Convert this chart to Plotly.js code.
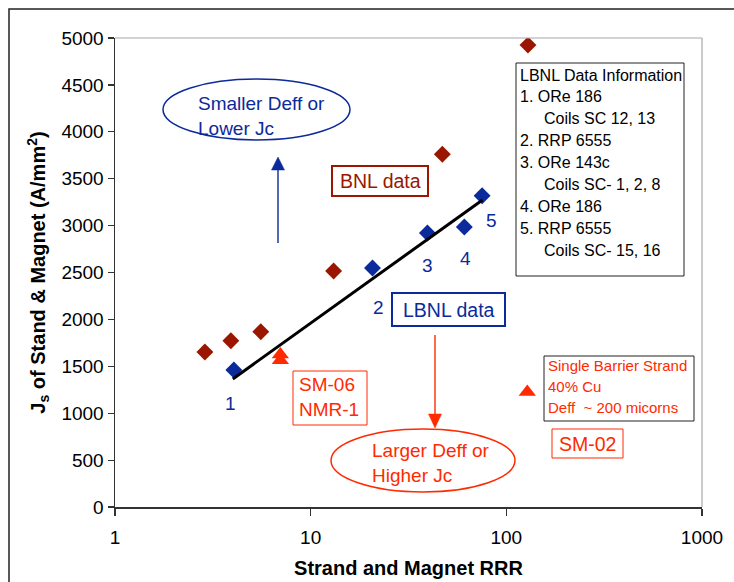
<!DOCTYPE html>
<html>
<head>
<meta charset="utf-8">
<script src="https://cdn.plot.ly/plotly-3.0.1.min.js"></script>
<style>
html,body{margin:0;padding:0;background:#fff;}
#chart{width:734px;height:582px;}
</style>
</head>
<body>
<div id="chart"></div>
<script>
// ---- data ----
var bnlRRR = [2.88, 3.91, 5.56, 13.1, 47.1, 129];
var bnlJs  = [1652, 1773, 1869, 2516, 3760, 4925];

var lbnlRRR = [4.05, 20.7, 39.5, 61, 75.2];
var lbnlJs  = [1460, 2548, 2921, 2985, 3319];
var lbnlLabels = ['1', '2', '3', '4', '5'];

var sm06RRR = [7.0, 7.0];
var sm06Js  = [1625, 1565];

var sm02RRR = [128];
var sm02Js  = [1226];

var trendRRR = [4.0, 75.5];
var trendJs  = [1365, 3273];

var xTickVals = [1, 10, 100, 1000];
var xTickText = ['1', '10', '100', '1000'];

var infoLines = ['LBNL Data Information', '1. ORe 186', '   Coils SC 12, 13', '2. RRP 6555',
  '3. ORe 143c', '   Coils SC- 1, 2, 8', '4. ORe 186', '5. RRP 6555', '   Coils SC- 15, 16'];
var barrierLines = ['Single Barrier Strand', '40% Cu', 'Deff&nbsp; ~ 200 micorns'];

// ---- style ----
var FONT = 'Liberation Sans, Arial, Helvetica, sans-serif';
var BROWN = '#9A1600';
var BLUE = '#0B2A9B';
var RED = '#FF2A00';

var L = 115, R = 702, T = 38, B = 507;
function xp(px){ return (px - L) / (R - L); }
function yp(py){ return (B - py) / (B - T); }

var traces = [
  {x: bnlRRR, y: bnlJs, type: 'scatter', mode: 'markers',
   marker: {symbol: 'diamond', size: 13, color: BROWN}},
  {x: lbnlRRR, y: lbnlJs, type: 'scatter', mode: 'markers',
   marker: {symbol: 'diamond', size: 13, color: BLUE}},
  {x: sm06RRR, y: sm06Js, type: 'scatter', mode: 'markers',
   marker: {symbol: 'triangle-up', size: 15, color: RED}},
  {x: sm02RRR, y: sm02Js, type: 'scatter', mode: 'markers',
   marker: {symbol: 'triangle-up', size: 15, color: RED}},
  {x: trendRRR, y: trendJs, type: 'scatter', mode: 'lines',
   line: {color: '#000', width: 3}}
];

function rect(x0, y0, x1, y1, color, w){
  return {type: 'rect', xref: 'paper', yref: 'paper', x0: xp(x0), x1: xp(x1), y0: yp(y1), y1: yp(y0),
          line: {color: color, width: w}, fillcolor: 'rgba(0,0,0,0)'};
}
function ell(x0, y0, x1, y1, color, w){
  return {type: 'circle', xref: 'paper', yref: 'paper', x0: xp(x0), x1: xp(x1), y0: yp(y1), y1: yp(y0),
          line: {color: color, width: w}, fillcolor: 'rgba(0,0,0,0)'};
}
function line(x0, y0, x1, y1, color, w){
  return {type: 'line', xref: 'paper', yref: 'paper', x0: xp(x0), x1: xp(x1), y0: yp(y0), y1: yp(y1),
          line: {color: color, width: w}};
}
function head(tx, ty, base, halfw, color){
  var p = 'M' + xp(tx) + ',' + yp(ty) + ' L' + xp(tx - halfw) + ',' + yp(base) +
          ' L' + xp(tx + halfw) + ',' + yp(base) + ' Z';
  return {type: 'path', xref: 'paper', yref: 'paper', path: p, fillcolor: color,
          line: {color: color, width: 0.5}};
}

var shapes = [
  rect(9, 9, 745, 600, '#222', 1.5),
  line(L, T, R, T, '#A8A8A8', 1.2),
  line(R, T, R, B, '#A8A8A8', 1.2),
  ell(163, 79, 350, 140, BLUE, 1.5),
  ell(331, 429, 515, 492, RED, 1.5),
  rect(332, 166, 428, 196, BROWN, 2),
  rect(392, 293, 505, 326, BLUE, 2),
  rect(293, 371, 367, 425, RED, 1),
  rect(544, 356, 694, 421, '#222', 1),
  rect(552, 429, 623, 458, RED, 1),
  rect(516, 63, 684, 276, '#222', 1),
  // arrows
  line(278, 243, 278, 166, BLUE, 1.4),
  head(278, 157, 170, 6.5, BLUE),
  line(435, 335, 435, 416, RED, 1.4),
  head(435, 428, 414, 6.5, RED)
];

function txt(s, px, py, color, size, xanchor, align){
  return {text: s, xref: 'paper', yref: 'paper', x: xp(px), y: yp(py), showarrow: false,
          xanchor: xanchor || 'center', yanchor: 'middle', align: align || 'left',
          font: {family: FONT, size: size, color: color}};
}

var annotations = [
  txt('Smaller Deff or<br>Lower Jc', 196, 115.5, BLUE, 19, 'left', 'left'),
  txt('BNL data', 380, 181, BROWN, 19.5),
  txt('LBNL data', 448.5, 309.5, BLUE, 19.5),
  txt('SM-06<br>NMR-1', 297, 397, RED, 19, 'left', 'left'),
  txt('Larger Deff or<br>Higher Jc', 370, 463, RED, 19, 'left', 'left'),
  txt('SM-02', 587.5, 443.5, RED, 19.5)
];
// point labels for LBNL data
var labelPos = [[230, 403], [378, 307], [427, 265], [465.7, 258], [491, 220]];
for (var i = 0; i < lbnlLabels.length; i++) {
  annotations.push(txt(lbnlLabels[i], labelPos[i][0], labelPos[i][1], BLUE, 19));
}
for (var j = 0; j < infoLines.length; j++) {
  annotations.push(txt(infoLines[j].replace(/^ +/, ''), infoLines[j].charAt(0) === ' ' ? 542 : 518,
                       75 + j * 21.9, '#000', 16, 'left', 'left'));
}
for (var k = 0; k < barrierLines.length; k++) {
  annotations.push(txt(barrierLines[k], 546, 365.5 + k * 21, RED, 15, 'left', 'left'));
}

var layout = {
  width: 734, height: 582,
  margin: {l: L, r: 734 - R, t: T, b: 582 - B, pad: 0},
  paper_bgcolor: '#fff', plot_bgcolor: '#fff',
  showlegend: false,
  font: {family: FONT, color: '#000'},
  xaxis: {
    type: 'log', range: [0, 3], tickvals: xTickVals, ticktext: xTickText,
    ticks: 'outside', ticklen: 7, tickwidth: 1.2, tickcolor: '#333',
    showline: true, linecolor: '#333', linewidth: 1.5, mirror: false,
    showgrid: false, zeroline: false,
    tickfont: {family: FONT, size: 19, color: '#000'},
    ticklabelstandoff: 6,
    title: {text: '<b>Strand and Magnet RRR</b>', font: {family: FONT, size: 20, color: '#000'}, standoff: 13}
  },
  yaxis: {
    range: [0, 5000], dtick: 500, tick0: 0,
    ticks: 'outside', ticklen: 6, tickwidth: 1.2, tickcolor: '#333',
    showline: true, linecolor: '#333', linewidth: 1.5,
    showgrid: false, zeroline: false,
    tickfont: {family: FONT, size: 19, color: '#000'},
    title: {text: '<b>J<sub>s</sub> of Stand &amp; Magnet (A/mm<sup>2</sup>)</b>',
            font: {family: FONT, size: 20, color: '#000'}, standoff: 10}
  },
  shapes: shapes,
  annotations: annotations
};

Plotly.newPlot('chart', traces, layout, {displayModeBar: false, staticPlot: true});
</script>
</body>
</html>
